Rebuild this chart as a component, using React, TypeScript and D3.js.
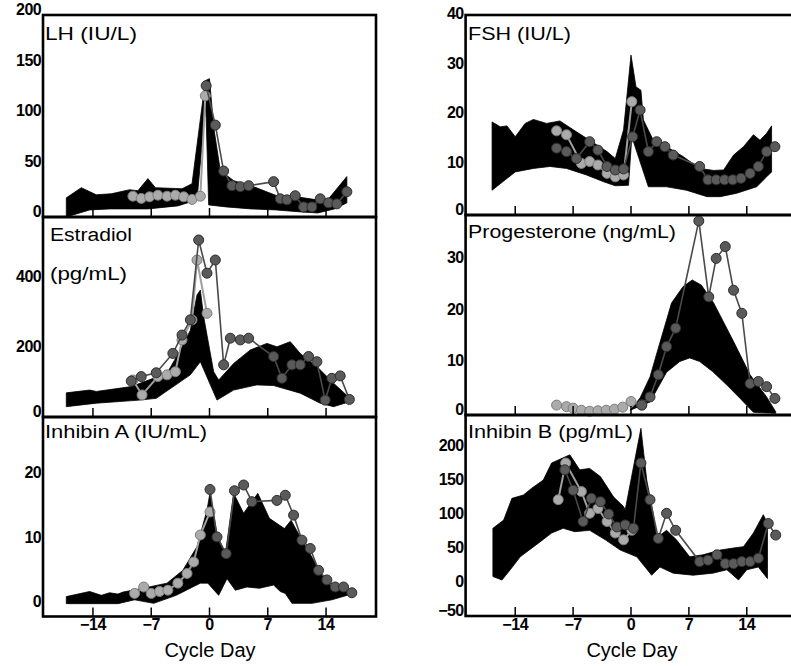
import React from "react";
import * as d3 from "d3";

type P = [number, number];

// ---------- data (cycle day, value) ----------
const lhUpper: P[] = [[-17.2,19],[-15.4,29],[-13.6,22],[-11.8,23],[-9.6,27],[-8.6,26],[-7.4,38],[-6.5,29],[-3.3,28],[-2.1,33],[-0.5,135],[0,137],[0.5,89],[1.3,46],[2.9,36],[5.3,30],[8.1,21],[10.5,20],[12.9,17],[14.3,18],[16.5,40]];
const lhLower: P[] = [[-17.2,0],[-14.4,7],[-12,8],[-7.4,8],[-3.8,11],[-1.5,17],[-0.45,112],[-0.1,12],[2,10],[5,8],[8,7],[11,5],[13,4],[15,8],[16.5,14]];
const lhLight: P[] = [[-9.2,20.6],[-8.2,18.4],[-7.2,20],[-6.2,21.6],[-5.1,20.6],[-4.1,21.6],[-3.1,20],[-2.1,17.4],[-1.1,20.6],[-0.5,120]];
const lhDark: P[] = [[-0.4,130],[0.7,91],[1.7,45.5],[2.7,31],[3.7,30],[4.7,31],[7.7,35],[8.5,18],[9.3,17],[10.3,21],[11.3,10],[12.3,10],[13.3,18],[14.3,14],[15.3,13],[16.5,25]];

const e2Upper: P[] = [[-17.2,69],[-14.4,77],[-13.6,73],[-9.4,87],[-6.2,116],[-5,130],[-3.5,193],[-2.3,250],[-1.5,352],[-1.1,366],[-0.7,289],[0.5,130],[1.1,106],[2.9,154],[4.9,193],[6.9,212],[8.1,202],[9.7,217],[10.9,183],[12.9,145],[14.9,97],[16.8,55]];
const e2Lower: P[] = [[-17.2,29],[-13.6,39],[-8.4,48],[-6.4,53],[-2.3,121],[-1.1,159],[0.9,48],[2.9,77],[5.7,92],[7.7,90],[10.9,68],[13.3,39],[14.9,29],[16.8,43]];
const e2Light: P[] = [[-9.2,106],[-8.1,63],[-6.2,116],[-5.1,121],[-4.1,130],[-3.3,222],[-2.1,280],[-1.5,453],[-0.3,299]];
const e2Dark: P[] = [[-9.4,103],[-8.2,116],[-6.4,127],[-4.4,183],[-3.3,236],[-2.3,280],[-1.3,511],[-0.3,415],[0.7,453],[1.7,150],[2.5,227],[3.7,222],[4.7,227],[7.7,174],[8.7,111],[9.9,150],[10.9,150],[11.9,174],[12.9,159],[13.9,48],[14.7,111],[15.7,118],[16.8,50]];

const iaUpper: P[] = [[-17.2,0.8],[-14.4,1.6],[-13,1.0],[-12,1.4],[-11,1.2],[-10.4,1.5],[-8,2.1],[-5.1,2.9],[-3.2,4.9],[-1.5,8.6],[-0.3,14.3],[0.06,17],[0.9,10.6],[1.9,7.4],[2.9,16.9],[4.1,13.8],[5.8,16.9],[7.2,13],[9,11.4],[9.8,12.7],[10.9,10.1],[12.5,6.5],[14.1,2.9],[15.7,1.8],[17.3,1.3]];
const iaLower: P[] = [[-17.2,-0.3],[-11,-0.3],[-9,0.3],[-6.7,-0.25],[-4,1],[-1.1,2.9],[-0.2,2.9],[1.1,1],[2.1,3.6],[3.1,1.8],[4.5,2.3],[6,2.1],[7.7,2.6],[8.5,1.6],[9.1,1.3],[9.9,-0.25],[12.3,-0.25],[14.7,0.3],[17.3,1.3]];
const iaLight: P[] = [[-9,1.3],[-7.9,2.3],[-7,1.3],[-6,1.6],[-5,1.8],[-3.8,2.9],[-2.7,4.4],[-1.9,6.2],[-1.1,10.4],[0.06,14]];
const iaDark: P[] = [[0.06,17.5],[0.9,10.1],[2,7.5],[3,17.3],[4.1,18.2],[5.1,15.6],[8.1,15.8],[9.1,16.6],[10.1,13.5],[11.1,9.6],[12.1,8.3],[13.1,4.9],[14.1,3.4],[15.1,2.3],[16.1,2.3],[17.1,1.4]];

const fshUpper: P[] = [[-16.8,18.4],[-15.8,17.4],[-15,17.6],[-14,15.4],[-12.8,18.1],[-11.8,18.9],[-10.2,18.1],[-8.6,18.6],[-6.6,16.4],[-5,14.7],[-2.9,12.4],[-1.9,11],[-0.9,16.8],[0,31.9],[0.6,25.5],[1.2,24.8],[1.5,18.8],[2.7,14.7],[4.3,13.4],[6.3,11.4],[8.3,9],[10,8.6],[11.2,8.7],[12.4,11.7],[13.6,13.4],[14.8,15.8],[15.6,14.7],[16.4,16.1],[17,17.6]];
const fshLower: P[] = [[-16.8,4.6],[-14,8.3],[-11.8,9],[-9.8,9.4],[-7.8,9],[-5.4,7.7],[-3.3,6.3],[-1.9,5.5],[-0.3,5.6],[0.1,15.4],[2.1,5.3],[4.3,5.3],[6.7,4.6],[9.2,3.3],[10.8,3.3],[12.8,4],[15.2,5.3],[16.4,7.3],[17,8.3]];
const fshLight: P[] = [[-9,16.6],[-7.8,15.8],[-6,10],[-5,10.4],[-4,9.7],[-2.9,8],[-1.9,7.3],[-0.9,7.7],[0.1,22.5]];
const fshDark: P[] = [[-9,13.1],[-7.8,12.4],[-6.6,11],[-5,14.4],[-4,12.7],[-2.9,9.4],[-1.9,8.7],[-0.9,8.9],[0.2,15.4],[1.1,20.8],[2.1,12.4],[3.1,14.4],[4.1,13.4],[5.1,11.7],[8.3,9.4],[9.3,6.7],[10.3,6.7],[11.3,6.7],[12.3,6.7],[13.3,7],[14.4,8],[15.4,9.4],[16.4,12.4],[17.4,13.4]];

const pUpper: P[] = [[-0.1,0.6],[1.1,3],[2.3,7.1],[3.3,12.7],[4.9,21.5],[6.3,24.7],[7.4,26],[8.5,25],[10,21.5],[12.4,14],[14.4,7.5],[16.4,3.2],[17.5,0.3]];
const pLower: P[] = [[-0.1,0.6],[2.3,2.2],[4.3,8],[5.9,10.1],[7.1,10.8],[8.3,10.1],[9.9,8.1],[11.6,5.5],[13.2,2.9],[14.8,0.2],[17.5,0]];
const pLight: P[] = [[-9,1.6],[-7.8,1.3],[-7,1],[-6,0.6],[-5,0.4],[-4,0.5],[-3,0.6],[-2,0.8],[-1,1.2],[0,2.3],[1.3,1.6]];
const pDark: P[] = [[1.3,1.6],[2.3,3.2],[3.3,7.5],[4.3,13],[5.4,16.6],[8.2,37.5],[9.4,22.7],[10.3,30.2],[11.4,32.5],[12.4,24],[13.4,19.5],[14.4,5.8],[15.4,6.2],[16.4,5.2],[17.4,2.9]];

const ibUpper: P[] = [[-16.7,79],[-15.4,91],[-14.4,123],[-13,128],[-12,138],[-10.6,150],[-9.6,175],[-7.4,187],[-6.2,165],[-5,167],[-3.7,155],[-2.1,125],[-0.9,111],[-0.7,106],[1.2,226],[1.9,150],[2.7,100],[3.1,65],[4.3,76],[5.5,62],[7.1,37],[8.7,40],[10.8,47],[12.4,50],[13.6,52],[14.8,72],[16,99],[16.5,86]];
const ibLower: P[] = [[-16.7,8],[-15.6,3],[-14.6,18],[-13.4,37],[-11,59],[-9.6,72],[-8.2,79],[-6.8,74],[-5,76],[-3.1,62],[-1.3,47],[0.7,37],[2.5,10],[3.5,22],[5.1,13],[7.5,10],[9.9,13],[11.6,18],[13,3],[14,18],[15.4,22],[16.5,5]];
const ibLight: P[] = [[-8.8,121],[-7.9,175],[-6,133],[-5,101],[-4,108],[-2.9,89],[-1.9,72],[-0.9,62],[0.1,76]];
const ibDark: P[] = [[-8,165],[-7,135],[-5.8,89],[-4.8,123],[-3.7,118],[-2.7,100],[-1.7,81],[-0.7,84],[0.3,79],[1.2,175],[2.3,121],[3.3,64],[4.3,101],[5.4,76],[8.3,30],[9.3,32],[10.4,40],[11.4,27],[12.4,27],[13.4,30],[14.4,30],[15.4,35],[16.6,86],[17.5,69]];

const xTicks = [-14, -7, 0, 7, 14];
const xTickLabels = ["\u221214", "\u22127", "0", "7", "14"];
const lhTicks = [0, 50, 100, 150, 200];
const e2Ticks = [0, 200, 400];
const iaTicks = [0, 10, 20];
const fshTicks = [0, 10, 20, 30, 40];
const pTicks = [0, 10, 20, 30];
const ibTicks = [-50, 0, 50, 100, 150, 200];

// ---------- layout ----------
const W = 791, H = 666;
const FONT = "'Liberation Sans', Arial, sans-serif";
const xLeft = d3.scaleLinear().domain([-20, 20]).range([43, 376]);
const xRight = d3.scaleLinear().domain([-20, 20]).range([465.6, 796.4]);

interface Panel {
  col: "L" | "R";
  top: number; bottom: number;
  yDomain: [number, number]; yRange: [number, number];
  ticks: number[]; labelDy: number;
  titles: { text: string; x: number; y: number; len: number }[];
  upper: P[]; lower: P[]; light: P[]; dark: P[];
  bottomAxis?: boolean;
}

const panels: Panel[] = [
  { col: "L", top: 15, bottom: 217, yDomain: [0, 200], yRange: [217, 15], ticks: lhTicks, labelDy: 0,
    titles: [{ text: "LH (IU/L)", x: 45, y: 40, len: 92 }], upper: lhUpper, lower: lhLower, light: lhLight, dark: lhDark },
  { col: "L", top: 217, bottom: 417, yDomain: [0, 578], yRange: [416.7, 216.8], ticks: e2Ticks, labelDy: 4,
    titles: [{ text: "Estradiol", x: 50, y: 241, len: 82 }, { text: "(pg/mL)", x: 50, y: 280, len: 77 }],
    upper: e2Upper, lower: e2Lower, light: e2Light, dark: e2Dark },
  { col: "L", top: 417, bottom: 616.5, yDomain: [-2.3, 28.8], yRange: [616.5, 417], ticks: iaTicks, labelDy: 5,
    titles: [{ text: "Inhibin A (IU/mL)", x: 45, y: 438, len: 162 }], upper: iaUpper, lower: iaLower, light: iaLight, dark: iaDark, bottomAxis: true },
  { col: "R", top: 15, bottom: 215, yDomain: [0, 40], yRange: [213, 15], ticks: fshTicks, labelDy: 4,
    titles: [{ text: "FSH (IU/L)", x: 468, y: 40, len: 103 }], upper: fshUpper, lower: fshLower, light: fshLight, dark: fshDark },
  { col: "R", top: 215, bottom: 415, yDomain: [0, 38.6], yRange: [413.3, 215.3], ticks: pTicks, labelDy: 4,
    titles: [{ text: "Progesterone (ng/mL)", x: 468, y: 238, len: 208 }], upper: pUpper, lower: pLower, light: pLight, dark: pDark },
  { col: "R", top: 415, bottom: 616, yDomain: [-50, 245.6], yRange: [616, 415], ticks: ibTicks, labelDy: 4.5,
    titles: [{ text: "Inhibin B (pg/mL)", x: 468, y: 438, len: 165 }], upper: ibUpper, lower: ibLower, light: ibLight, dark: ibDark, bottomAxis: true },
];

function PanelView({ p }: { p: Panel }) {
  const x = p.col === "L" ? xLeft : xRight;
  const y = d3.scaleLinear().domain(p.yDomain).range(p.yRange);
  const left = x.range()[0];
  const right = x.range()[1];
  const band = d3.line<P>().x(d => x(d[0])).y(d => y(d[1])).curve(d3.curveLinearClosed)([...p.upper, ...p.lower.slice().reverse()]) || "";
  const line = d3.line<P>().x(d => x(d[0])).y(d => y(d[1]));
  return (
    <g>
      <path d={band} fill="#000" stroke="#000" strokeWidth={0.8} strokeLinejoin="round" />
      <path d={line(p.light) || ""} fill="none" stroke="#a0a0a0" strokeWidth={2} />
      {p.light.map((d, i) => (
        <circle key={"l" + i} cx={x(d[0])} cy={y(d[1])} r={5} fill="#ababab" stroke="#7c7c7c" strokeWidth={1} />
      ))}
      <path d={line(p.dark) || ""} fill="none" stroke="#4a4a4a" strokeWidth={1.6} />
      {p.dark.map((d, i) => (
        <circle key={"d" + i} cx={x(d[0])} cy={y(d[1])} r={5} fill="#5a5a5a" stroke="#2e2e2e" strokeWidth={1} />
      ))}
      {p.titles.map((t, i) => (
        <text key={"t" + i} x={t.x} y={t.y} fontFamily={FONT} fontSize={18} textLength={t.len} lengthAdjust="spacingAndGlyphs" fill="#000">{t.text}</text>
      ))}
      <rect x={left} y={p.top} width={right - left} height={p.bottom - p.top} fill="none" stroke="#000" strokeWidth={2.6} />
      {xTicks.map(t => (
        <line key={"xt" + t} x1={x(t)} x2={x(t)} y1={p.bottom} y2={p.bottom - 9} stroke="#000" strokeWidth={1.5} />
      ))}
      {p.ticks.map(t => (
        <text key={"yt" + t} x={left - 2} y={Math.min(y(t) + p.labelDy, p.bottom)} textAnchor="end" fontFamily={FONT} fontSize={16} fontWeight="bold" fill="#000" letterSpacing={-0.6}>
          {t < 0 ? "\u2212" + Math.abs(t) : String(t)}
        </text>
      ))}
      {p.bottomAxis && xTicks.map((t, i) => (
        <text key={"xl" + t} x={x(t)} y={630} textAnchor="middle" fontFamily={FONT} fontSize={16} fontWeight="bold" fill="#000" letterSpacing={-0.4}>{xTickLabels[i]}</text>
      ))}
      {p.bottomAxis && (
        <text x={p.col === "L" ? 210 : 632} y={657} textAnchor="middle" fontFamily={FONT} fontSize={20} fill="#000">Cycle Day</text>
      )}
    </g>
  );
}

export default function App() {
  return (
    <svg width={W} height={H} viewBox={`0 0 ${W} ${H}`} style={{ position: "absolute", left: 0, top: 0, background: "#fff" }}>
      <rect x={0} y={0} width={W} height={H} fill="#fff" />
      {panels.map((p, i) => <PanelView key={i} p={p} />)}
    </svg>
  );
}
